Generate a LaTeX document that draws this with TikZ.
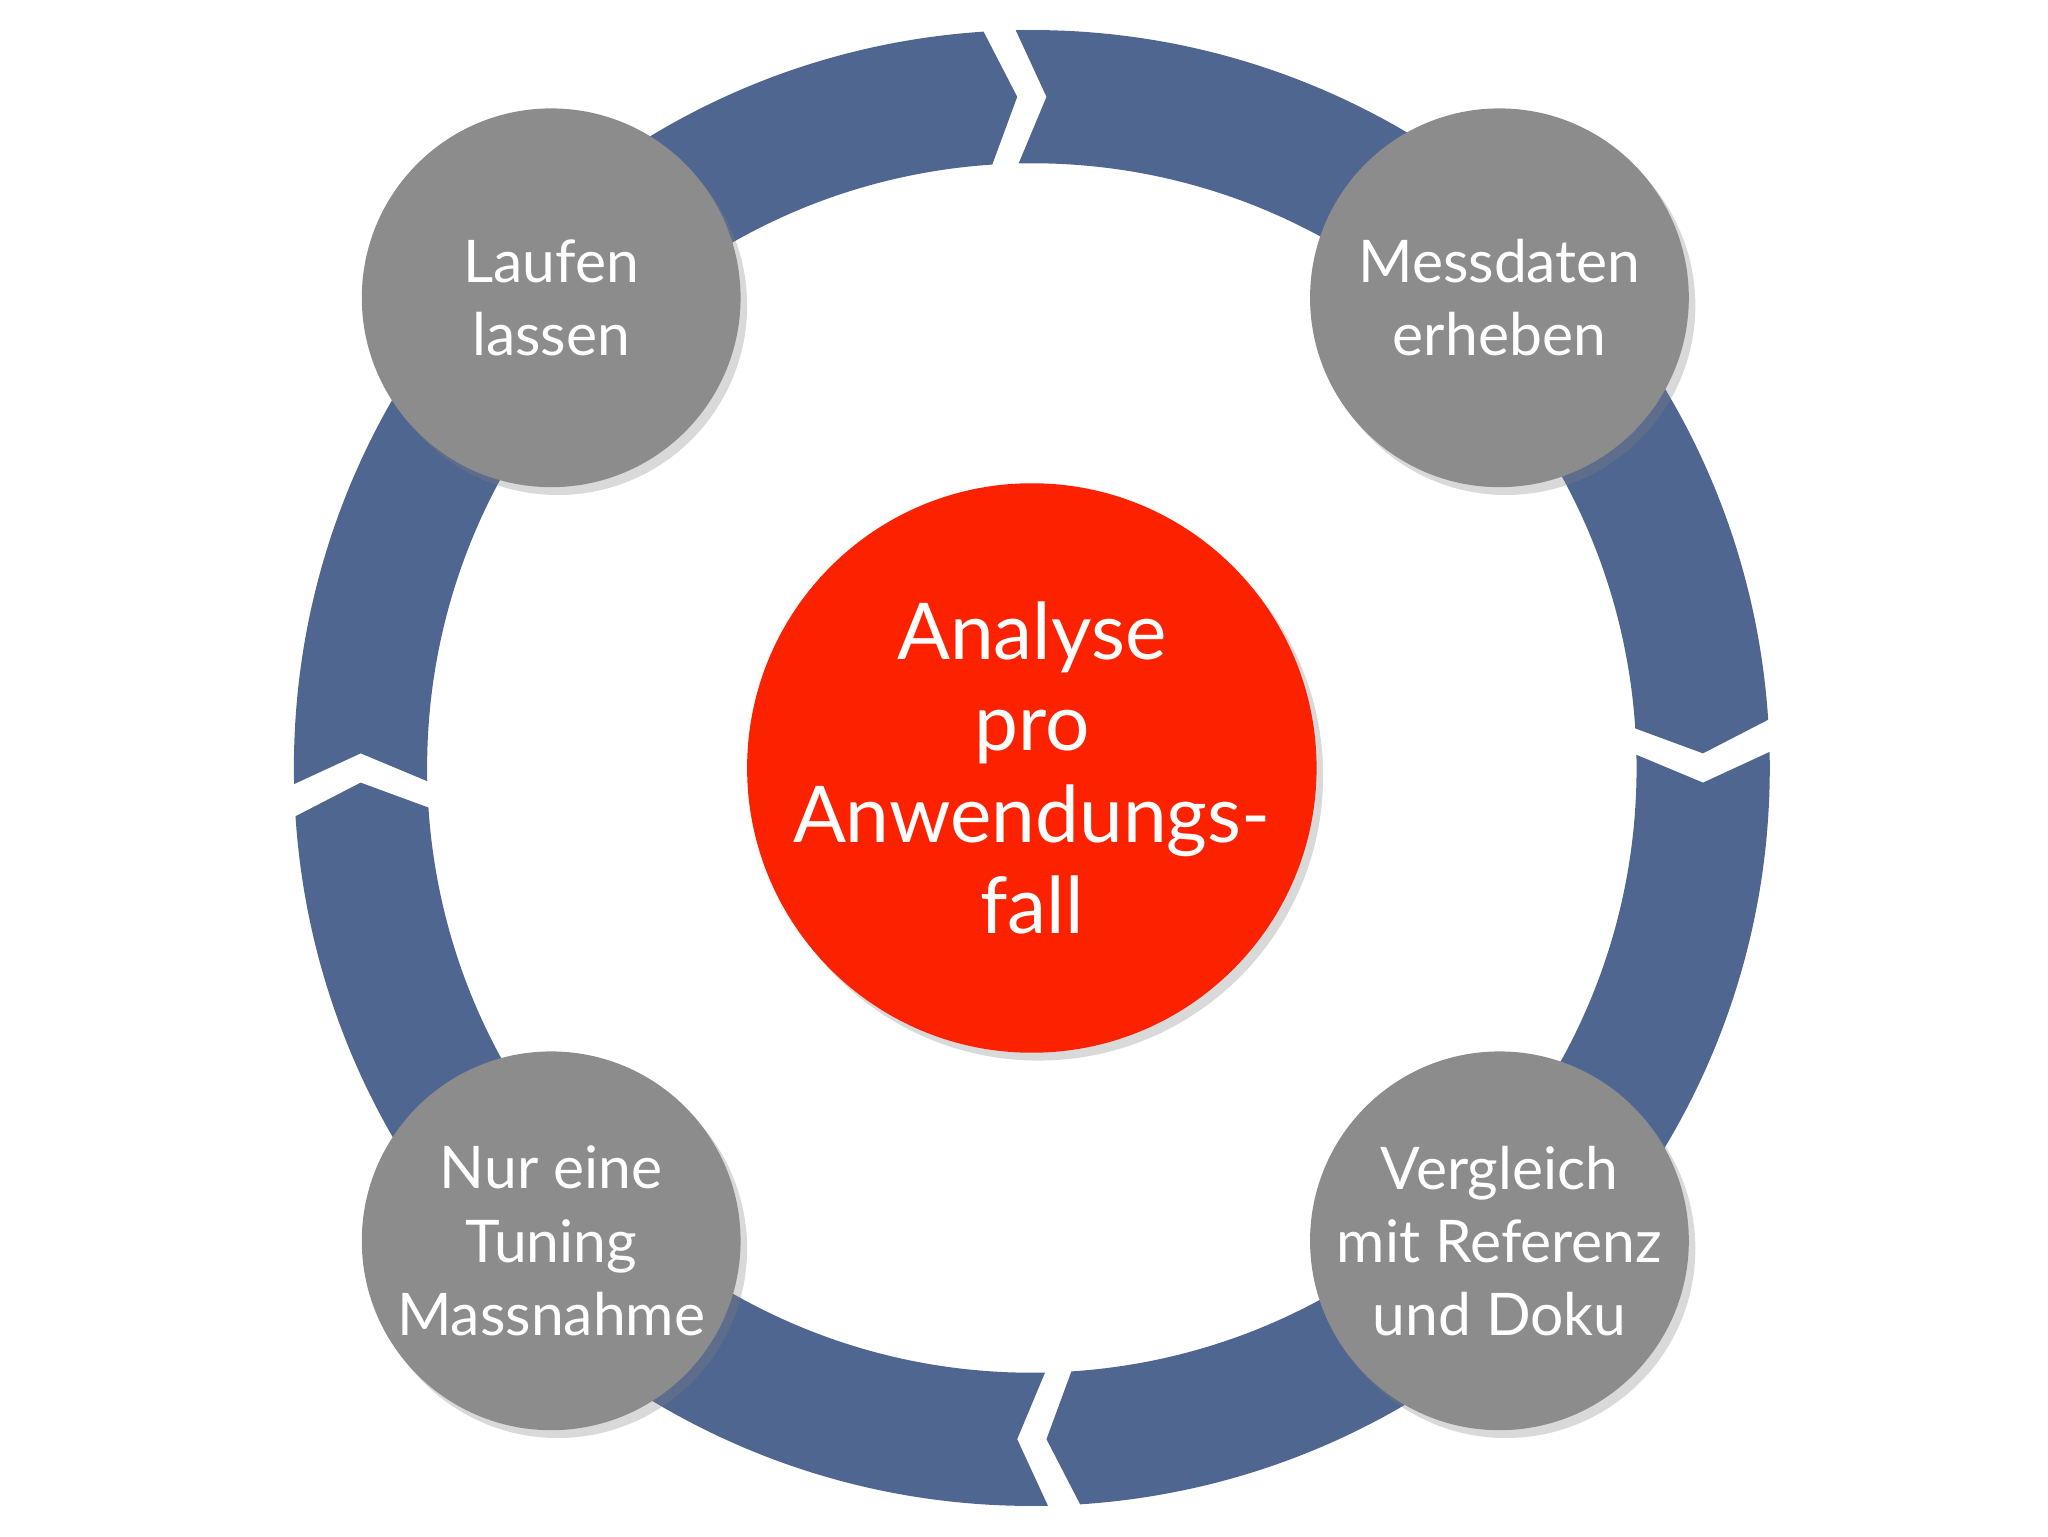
\documentclass[tikz,border=0pt]{standalone}
\usepackage{fontspec}
\setmainfont{Lato}
\usetikzlibrary{shadows}
\definecolor{ringblue}{HTML}{4F6690}
\definecolor{stepgray}{HTML}{8C8C8C}
\definecolor{hubred}{HTML}{FC2200}
\tikzset{
  stepcircle/.style={circle,fill=stepgray,minimum size=290pt,inner sep=0pt,
    drop shadow={shadow xshift=5pt,shadow yshift=-6pt,opacity=0.3}},
  hubcircle/.style={circle,fill=hubred,minimum size=436pt,inner sep=0pt,
    drop shadow={shadow xshift=5pt,shadow yshift=-6pt,opacity=0.3}},
  steptext/.style={text=white,align=center,font=\fontsize{45}{56}\selectfont},
  hubtext/.style={text=white,align=center,font=\fontsize{60}{70}\selectfont},
}
\newcommand{\ringseg}[2]{% start angle, end angle (clockwise, start>end)
  \fill[ringblue] (#1+2.5:565pt) arc[start angle=#1+2.5,end angle=#2+2.5,radius=565pt]
    -- (#2:514pt) -- (#2+2.5:463pt)
    arc[start angle=#2+2.5,end angle=#1+2.5,radius=463pt] -- (#1:514pt) -- cycle;}
\begin{document}
\begin{tikzpicture}[x=1pt,y=1pt]
\useasboundingbox (0,0) rectangle (1568,1176);
\begin{scope}[shift={(790,588)}]
\ringseg{178.75}{91.25}
\ringseg{88.75}{1.25}
\ringseg{-1.25}{-88.75}
\ringseg{-91.25}{-178.75}
\end{scope}
\node[hubcircle] (hub) at (790,588) {};
\node[hubtext] (hubt) at (hub.center) {Analyse\\pro\\Anwendungs-\\fall};
\node[stepcircle] (s1) at (422,948) {};
\node[steptext] (t1) at (s1.center) {Laufen\\lassen};
\node[stepcircle] (s2) at (1148,948) {};
\node[steptext] (t2) at (s2.center) {Messdaten\\erheben};
\node[stepcircle] (s3) at (1148,226) {};
\node[steptext] (t3) at (s3.center) {Vergleich\\mit Referenz\\und Doku};
\node[stepcircle] (s4) at (422,226) {};
\node[steptext] (t4) at (s4.center) {Nur eine\\Tuning\\Massnahme};
\end{tikzpicture}
\end{document}
